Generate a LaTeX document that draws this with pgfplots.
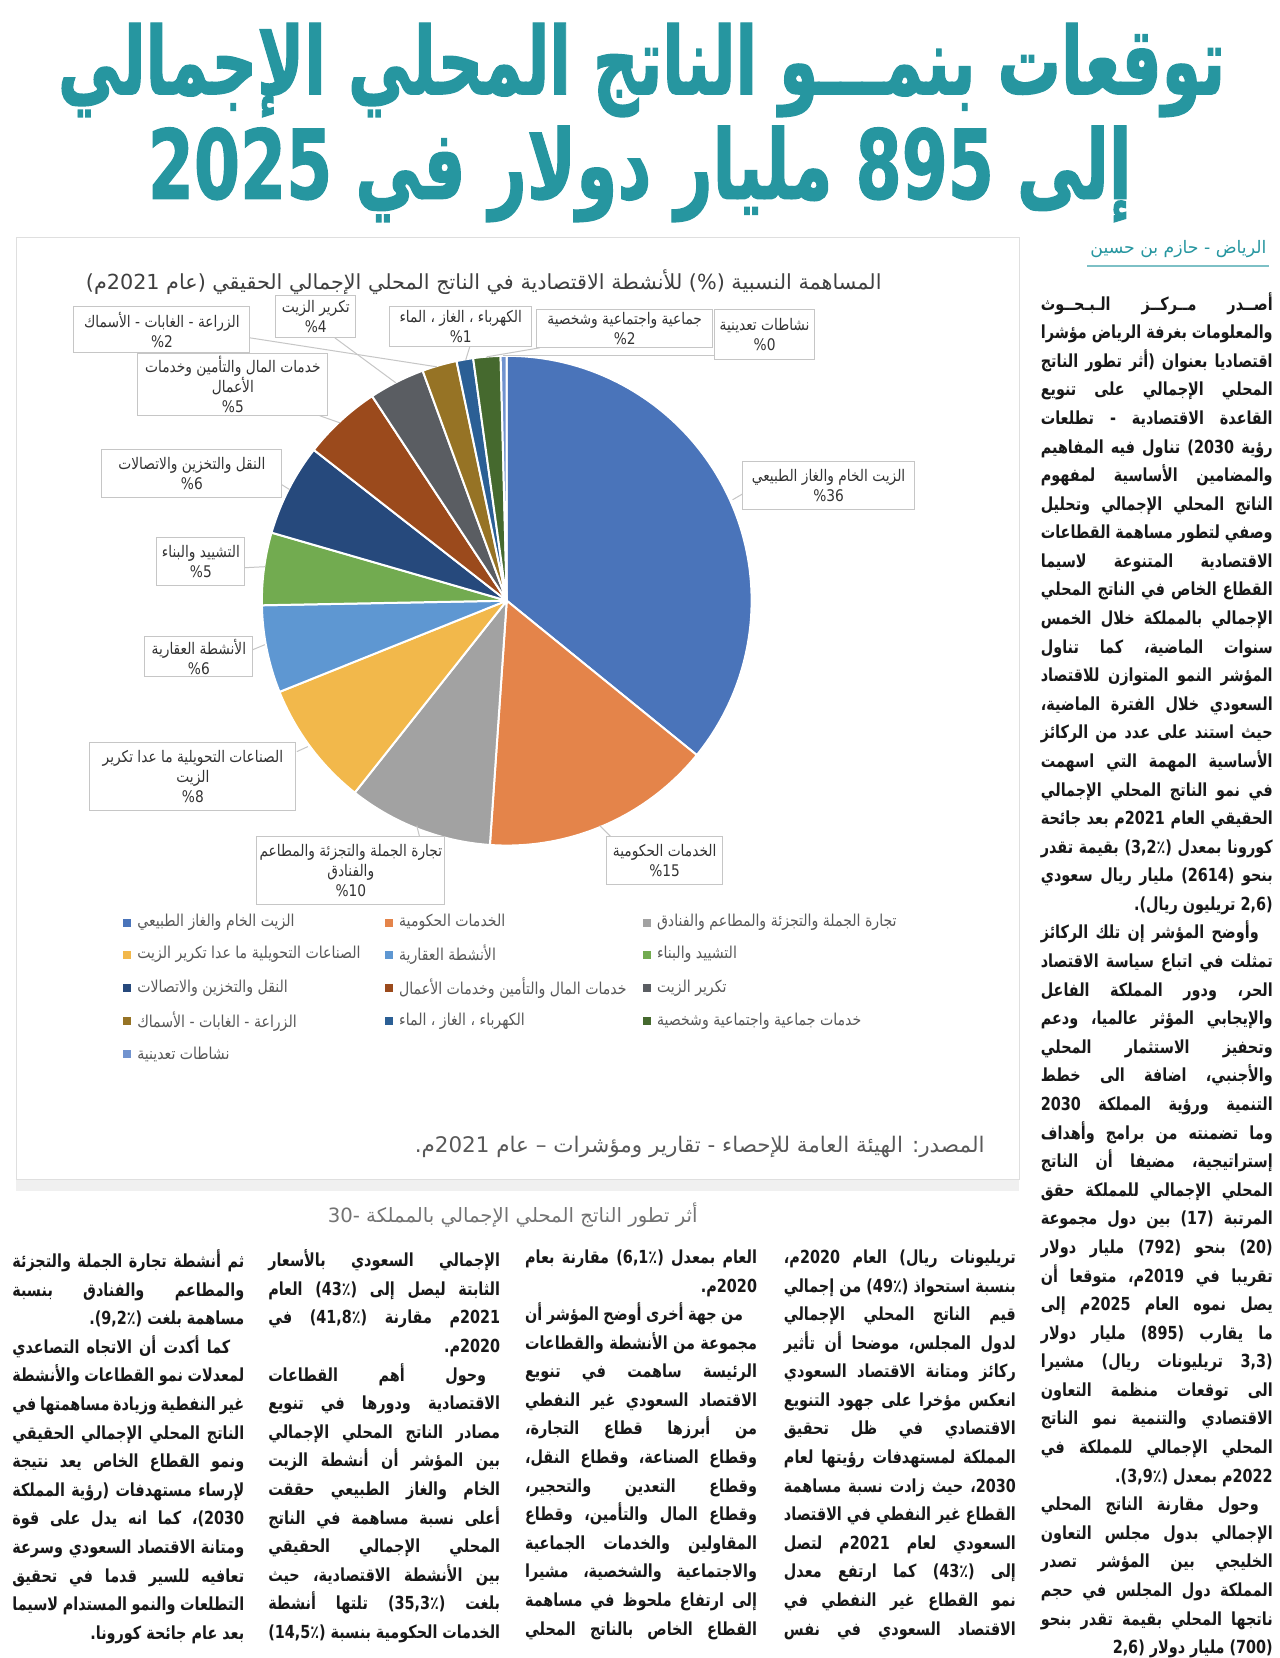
\documentclass[border=0pt]{standalone}
\usepackage{pgfplots}
\usepackage{pgfplotstable}
\usepackage{graphicx}
\usepackage{fontspec}
\pgfplotsset{compat=1.18}
\TeXXeTstate=1
\setmainfont{DejaVu Sans}
\newfontfamily\ar[Script=Arabic]{DejaVu Sans}
\newfontfamily\arn[Script=Arabic,FakeStretch=0.86]{DejaVu Sans}
\newfontfamily\arbody[Script=Arabic,FakeStretch=0.8]{DejaVu Sans}

\definecolor{teal}{RGB}{38,150,160}
\definecolor{c1}{HTML}{4A74BA}
\definecolor{c2}{HTML}{E4844A}
\definecolor{c3}{HTML}{A2A2A2}
\definecolor{c4}{HTML}{F2B84B}
\definecolor{c5}{HTML}{5E97D2}
\definecolor{c6}{HTML}{72AB50}
\definecolor{c7}{HTML}{26497C}
\definecolor{c8}{HTML}{9B4A1C}
\definecolor{c9}{HTML}{5A5D62}
\definecolor{c10}{HTML}{967325}
\definecolor{c11}{HTML}{2B5F95}
\definecolor{c12}{HTML}{45692E}
\definecolor{c13}{HTML}{7193CF}

\pgfplotstableread[col sep=comma]{
share,col
36.0,c1
15.3,c2
9.6,c3
8.3,c4
5.8,c5
4.8,c6
6.1,c7
5.2,c8
3.7,c9
2.3,c10
1.1,c11
1.8,c12
0.4,c13
}\piedata

\tikzset{
  lbl/.style={draw=gray!45, fill=white, line width=0.5pt, inner sep=1pt, align=center,
    font=\arn\fontsize{8}{10}\selectfont, text=black!80},
  lead/.style={draw=gray!45, line width=0.5pt},
  leg/.style={anchor=west, inner sep=0pt, font=\arn\fontsize{8.2}{9}\selectfont, text=black!65},
  col/.style={anchor=north west, inner sep=0pt, text width=116pt, align=justify,
    font=\arbody\bfseries\fontsize{9}{14.3}\selectfont, text=black!90},
}
\newcommand\legsq[3]{%
  \fill[#3] (#1-4,#2-4) rectangle (#1+4,#2+4);}
% RTL paragraph: last line flush right
\newcommand\rpar[1]{\parindent=0pt\parfillskip=0pt\tolerance=9999\emergencystretch=3em
  \beginR\hspace*{7pt}#1\hspace{0pt plus 1fil}\endR\par}
% RTL paragraph that runs on into the next column
\newcommand\rrun[1]{\parindent=0pt\parfillskip=0pt\tolerance=9999\emergencystretch=3em
  \beginR #1\endR\par}

\begin{document}
\begin{tikzpicture}
\begin{scope}[x=0.5pt,y=-0.5pt]
\path[use as bounding box, fill=white] (0,0) rectangle (1280,1658);

% headline
\node[text=teal] at (642,70) {\resizebox*{584pt}{47pt}{\ar\bfseries\addfontfeature{FakeBold=1.5}\beginR توقعات بنمـــو الناتج المحلي الإجمالي\endR}};
\node[text=teal] at (640,174) {\resizebox*{492pt}{48pt}{\ar\bfseries\addfontfeature{FakeBold=1.5}\beginR إلى 895 مليار دولار في 2025\endR}};

% byline
\node[text=teal] at (1179,249) {\resizebox{88pt}{!}{\ar\beginR الرياض - حازم بن حسين\endR}};
\draw[teal!60, line width=0.8pt] (1088,266) -- (1270,266);

% chart frame
\fill[gray!12] (16,1180) rectangle (1020,1192);
\draw[gray!25, fill=white] (16,238) rectangle (1020,1180);

% chart title
\node[text=black!75] at (484,282) {\resizebox{398pt}{!}{\ar\beginR المساهمة النسبية (\%) للأنشطة الاقتصادية في الناتج المحلي الإجمالي الحقيقي (عام 2021م)\endR}};
\end{scope}

\begin{axis}[at={(253.5pt,-300.5pt)}, anchor=center,
  x=122.5pt, y=122.5pt,
  xmin=-1.05, xmax=1.05, ymin=-1.05, ymax=1.05,
  hide axis, clip=false]
\pgfplotstablegetrowsof{\piedata}
\pgfmathtruncatemacro\nlast{\pgfplotsretval-1}
\def\tot{0}
\pgfplotsforeachungrouped \i in {0,...,\nlast}{%
  \pgfplotstablegetelem{\i}{share}\of\piedata
  \pgfmathsetmacro\tot{\tot+\pgfplotsretval}}
\def\cum{0}
\pgfplotsforeachungrouped \i in {0,...,\nlast}{%
  \pgfplotstablegetelem{\i}{share}\of\piedata
  \let\sliceval\pgfplotsretval
  \pgfplotstablegetelem{\i}{col}\of\piedata
  \let\slicecol\pgfplotsretval
  \pgfmathsetmacro\angA{90-360*(\cum/\tot)}
  \pgfmathsetmacro\cum{\cum+\sliceval}
  \pgfmathsetmacro\angB{90-360*(\cum/\tot)}
  \edef\doslice{\noexpand\fill[fill=\slicecol, draw=white, line width=1pt, line join=round]
    (axis cs:0,0) -- (axis cs:{cos(\angA)},{sin(\angA)})
    arc[start angle=\angA, end angle=\angB, radius=122.5pt] -- cycle;}%
  \doslice}
\end{axis}

\begin{scope}[x=0.5pt,y=-0.5pt]
% leader lines
\draw[lead] (745,493) -- (733,500);
\draw[lead] (612,838) -- (600,826);
\draw[lead] (420,838) -- (417,826);
\draw[lead] (297,752) -- (308,747);
\draw[lead] (253,650) -- (265,645);
\draw[lead] (245,568) -- (265,567);
\draw[lead] (282,485) -- (290,490);
\draw[lead] (320,416) -- (340,423);
\draw[lead] (250,338) -- (437,367);
\draw[lead] (335,338) -- (396,383);
\draw[lead] (470,347) -- (466,360);
\draw[lead] (540,348) -- (487,357);
\draw[lead] (716,356) -- (503,356);

% data callouts
\node[lbl, minimum width=86pt, minimum height=24pt] at (829,486)
  {\beginR الزيت الخام والغاز الطبيعي\endR\\\%36};
\node[lbl, minimum width=58pt, minimum height=24pt] at (665,861)
  {\beginR الخدمات الحكومية\endR\\\%15};
\node[lbl, minimum width=94pt, minimum height=34pt] at (351,871)
  {\beginR تجارة الجملة  والتجزئة والمطاعم\endR\\\beginR والفنادق\endR\\\%10};
\node[lbl, minimum width=103pt, minimum height=34pt] at (193,777)
  {\beginR الصناعات التحويلية ما عدا تكرير\endR\\\beginR الزيت\endR\\\%8};
\node[lbl, minimum width=54pt, minimum height=20pt] at (199,657)
  {\beginR الأنشطة العقارية\endR\\\%6};
\node[lbl, minimum width=44pt, minimum height=24pt] at (201,562)
  {\beginR التشييد والبناء\endR\\\%5};
\node[lbl, minimum width=90pt, minimum height=24pt] at (192,474)
  {\beginR النقل والتخزين والاتصالات\endR\\\%6};
\node[lbl, minimum width=95pt, minimum height=31pt] at (233,385)
  {\beginR خدمات المال والتأمين وخدمات\endR\\\beginR الأعمال\endR\\\%5};
\node[lbl, minimum width=88pt, minimum height=23pt] at (162,330)
  {\beginR الزراعة - الغابات - الأسماك\endR\\\%2};
\node[lbl, minimum width=40pt, minimum height=21pt] at (316,317)
  {\beginR تكرير الزيت\endR\\\%4};
\node[lbl, minimum width=71pt, minimum height=20pt] at (461,327)
  {\beginR الكهرباء ، الغاز ، الماء\endR\\\%1};
\node[lbl, minimum width=88pt, minimum height=19pt] at (625,329)
  {\beginR جماعية واجتماعية وشخصية\endR\\\%2};
\node[lbl, minimum width=50pt, minimum height=25pt] at (765,335)
  {\beginR نشاطات تعدينية\endR\\\%0};

% legend
\legsq{127}{923}{c1}  \node[leg] at (137,923) {\beginR الزيت الخام والغاز الطبيعي\endR};
\legsq{389}{923}{c2}  \node[leg] at (399,923) {\beginR الخدمات الحكومية\endR};
\legsq{647}{923}{c3}  \node[leg] at (657,923) {\beginR تجارة الجملة  والتجزئة والمطاعم والفنادق\endR};
\legsq{127}{955}{c4}  \node[leg] at (137,955) {\beginR الصناعات التحويلية ما عدا تكرير الزيت\endR};
\legsq{389}{955}{c5}  \node[leg] at (399,955) {\beginR الأنشطة العقارية\endR};
\legsq{647}{955}{c6}  \node[leg] at (657,955) {\beginR التشييد والبناء\endR};
\legsq{127}{989}{c7}  \node[leg] at (137,989) {\beginR النقل والتخزين والاتصالات\endR};
\legsq{389}{989}{c8}  \node[leg] at (399,989) {\beginR خدمات المال والتأمين وخدمات الأعمال\endR};
\legsq{647}{989}{c9}  \node[leg] at (657,989) {\beginR تكرير الزيت\endR};
\legsq{127}{1022}{c10} \node[leg] at (137,1022) {\beginR الزراعة - الغابات - الأسماك\endR};
\legsq{389}{1022}{c11} \node[leg] at (399,1022) {\beginR الكهرباء ، الغاز ، الماء\endR};
\legsq{647}{1022}{c12} \node[leg] at (657,1022) {\beginR خدمات جماعية واجتماعية وشخصية\endR};
\legsq{127}{1055}{c13} \node[leg] at (137,1055) {\beginR نشاطات تعدينية\endR};

% source and caption
\node[text=black!65] at (700,1148) {\resizebox{285pt}{!}{\ar\beginR المصدر: الهيئة العامة للإحصاء - تقارير ومؤشرات – عام 2021م.\endR}};
\node[text=black!55] at (513,1216) {\resizebox{185pt}{!}{\ar -30 \beginR أثر تطور الناتج المحلي الإجمالي بالمملكة\endR}};

% article text, right column
\node[col] at (1041,292) {%
\rrun{أصــدر مــركــز الـبـحــوث والمعلومات بغرفة الرياض مؤشرا اقتصاديا بعنوان (أثر تطور الناتج المحلي الإجمالي على تنويع القاعدة الاقتصادية - تطلعات رؤية 2030) تناول فيه المفاهيم والمضامين الأساسية لمفهوم الناتج المحلي الإجمالي وتحليل وصفي لتطور مساهمة القطاعات الاقتصادية المتنوعة لاسيما القطاع الخاص في الناتج المحلي الإجمالي بالمملكة خلال الخمس سنوات الماضية، كما تناول المؤشر النمو المتوازن للاقتصاد السعودي خلال الفترة الماضية، حيث استند على عدد من الركائز الأساسية المهمة التي اسهمت في نمو الناتج المحلي الإجمالي الحقيقي العام 2021م بعد جائحة كورونا بمعدل (3,2٪) بقيمة تقدر بنحو (2614) مليار ريال سعودي (2,6 تريليون ريال).\hspace{0pt plus 1fil}}
\rpar{وأوضح المؤشر إن تلك الركائز تمثلت في اتباع سياسة الاقتصاد الحر، ودور المملكة الفاعل والإيجابي المؤثر عالميا، ودعم وتحفيز الاستثمار المحلي والأجنبي، اضافة الى خطط التنمية ورؤية المملكة 2030 وما تضمنته من برامج وأهداف إستراتيجية، مضيفا أن الناتج المحلي الإجمالي للمملكة حقق المرتبة (17) بين دول مجموعة (20) بنحو (792) مليار دولار تقريبا في 2019م، متوقعا أن يصل نموه العام 2025م إلى ما يقارب (895) مليار دولار (3,3 تريليونات ريال) مشيرا الى توقعات منظمة التعاون الاقتصادي والتنمية نمو الناتج المحلي الإجمالي للمملكة في 2022م بمعدل (3,9٪).}
\rpar{وحول مقارنة الناتج المحلي الإجمالي بدول مجلس التعاون الخليجي بين المؤشر تصدر المملكة دول المجلس في حجم ناتجها المحلي بقيمة تقدر بنحو (700) مليار دولار (2,6}};

% article text, bottom columns
\node[col] at (784,1250) {%
\rrun{تريليونات ريال) العام 2020م، بنسبة استحواذ (49٪) من إجمالي قيم الناتج المحلي الإجمالي لدول المجلس، موضحا أن تأثير ركائز ومتانة الاقتصاد السعودي انعكس مؤخرا على جهود التنويع الاقتصادي في ظل تحقيق المملكة لمستهدفات رؤيتها لعام 2030، حيث زادت نسبة مساهمة القطاع غير النفطي في الاقتصاد السعودي لعام 2021م لتصل إلى (43٪) كما ارتفع معدل نمو القطاع غير النفطي في الاقتصاد السعودي في نفس}};
\node[col] at (525,1250) {%
\rrun{العام بمعدل (6,1٪) مقارنة بعام 2020م.\hspace{0pt plus 1fil}}
\rrun{\hspace*{7pt}من جهة أخرى أوضح المؤشر أن مجموعة من الأنشطة والقطاعات الرئيسة ساهمت في تنويع الاقتصاد السعودي غير النفطي من أبرزها قطاع التجارة، وقطاع الصناعة، وقطاع النقل، وقطاع التعدين والتحجير، وقطاع المال والتأمين، وقطاع المقاولين والخدمات الجماعية والاجتماعية والشخصية، مشيرا إلى ارتفاع ملحوظ في مساهمة القطاع الخاص بالناتج المحلي}};
\node[col] at (268,1250) {%
\rrun{الإجمالي السعودي بالأسعار الثابتة ليصل إلى (43٪) العام 2021م مقارنة (41,8٪) في 2020م.\hspace{0pt plus 1fil}}
\rrun{\hspace*{7pt}وحول أهم القطاعات الاقتصادية ودورها في تنويع مصادر الناتج المحلي الإجمالي بين المؤشر أن أنشطة الزيت الخام والغاز الطبيعي حققت أعلى نسبة مساهمة في الناتج المحلي الإجمالي الحقيقي بين الأنشطة الاقتصادية، حيث بلغت (35,3٪) تلتها أنشطة الخدمات الحكومية بنسبة (14,5٪)}};
\node[col] at (12,1250) {%
\rrun{ثم أنشطة تجارة الجملة والتجزئة والمطاعم والفنادق بنسبة مساهمة بلغت (9,2٪).\hspace{0pt plus 1fil}}
\rpar{كما أكدت أن الاتجاه التصاعدي لمعدلات نمو القطاعات والأنشطة غير النفطية وزيادة مساهمتها في الناتج المحلي الإجمالي الحقيقي ونمو القطاع الخاص يعد نتيجة لإرساء مستهدفات (رؤية المملكة 2030)، كما انه يدل على قوة ومتانة الاقتصاد السعودي وسرعة تعافيه للسير قدما في تحقيق التطلعات والنمو المستدام لاسيما بعد عام جائحة كورونا.}};
\end{scope}
\end{tikzpicture}
\end{document}
